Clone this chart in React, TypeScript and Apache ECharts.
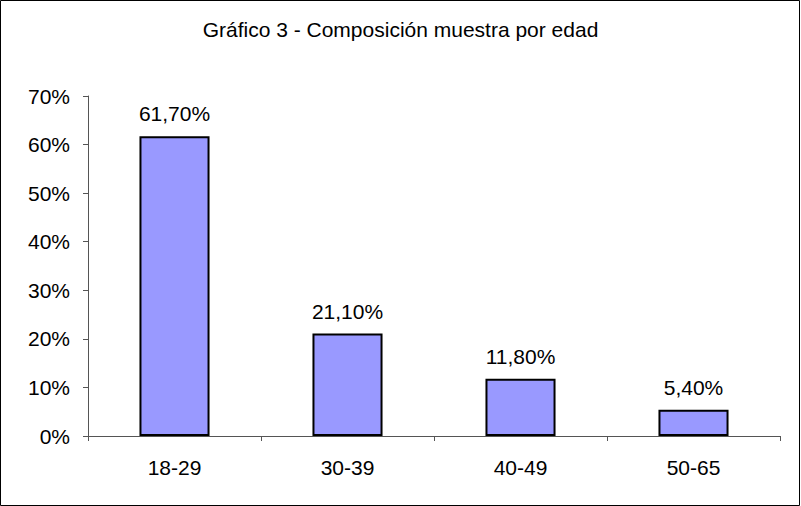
import React, { useEffect, useRef } from "react";
import * as echarts from "echarts";

const titleText = "Gráfico 3 - Composición muestra por edad";
const categories = ["18-29", "30-39", "40-49", "50-65"];
const values = [61.7, 21.1, 11.8, 5.4];
const yMin = 0;
const yMax = 70;
const yInterval = 10;

export default function App() {
  const ref = useRef<HTMLDivElement>(null);
  useEffect(() => {
    if (!ref.current) return;
    const chart = echarts.init(ref.current, null, { renderer: "svg" });
    const font = "'Liberation Sans', Arial, sans-serif";
    chart.setOption({
      animation: false,
      backgroundColor: "#ffffff",
      textStyle: { fontFamily: font },
      title: {
        text: titleText,
        left: "center",
        top: 14,
        textStyle: { fontFamily: font, fontSize: 21, fontWeight: "normal", color: "#000" },
      },
      grid: { left: 88, right: 21, top: 96, bottom: 70, containLabel: false },
      xAxis: {
        type: "category",
        data: categories,
        axisLine: { lineStyle: { color: "#555", width: 1 } },
        axisTick: { show: true, length: 5, inside: false, lineStyle: { color: "#555" } },
        axisLabel: { color: "#000", fontSize: 21, fontFamily: font, margin: 21 },
      },
      yAxis: {
        type: "value",
        min: yMin,
        max: yMax,
        interval: yInterval,
        axisLine: { show: true, lineStyle: { color: "#555", width: 1 } },
        axisTick: { show: true, length: 5, lineStyle: { color: "#555" } },
        splitLine: { show: false },
        axisLabel: { color: "#000", fontSize: 21, fontFamily: font, margin: 18, formatter: "{value}%" },
      },
      series: [
        {
          type: "bar",
          data: values,
          barWidth: "40.5%",
          itemStyle: { color: "#9999FF", borderColor: "#000", borderWidth: 2 },
          label: {
            show: true,
            position: "top",
            distance: 12,
            color: "#000",
            fontSize: 21,
            fontFamily: font,
            formatter: (p: any) => p.value.toFixed(2).replace(".", ",") + "%",
          },
        },
      ],
      graphic: [
        {
          type: "rect",
          shape: { x: 0.5, y: 0.5, width: 799, height: 505 },
          style: { fill: "none", stroke: "#000", lineWidth: 1 },
          silent: true,
        },
      ],
    });
    return () => chart.dispose();
  }, []);
  return (
    <div
      ref={ref}
      style={{ position: "fixed", left: 0, top: 0, width: 801, height: 506 }}
    />
  );
}
